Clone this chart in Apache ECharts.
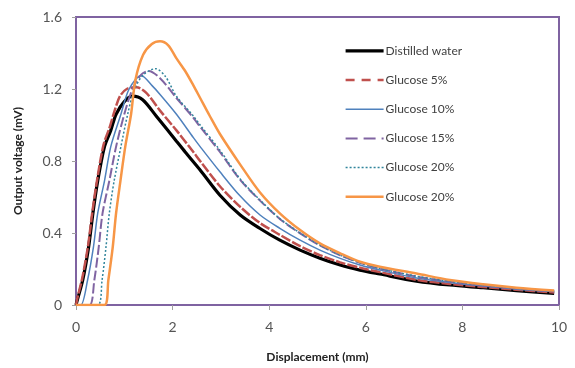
<!DOCTYPE html>
<html><head><meta charset="utf-8">
<script src="https://cdn.jsdelivr.net/npm/echarts@6/dist/echarts.min.js"></script>
<style>html,body{margin:0;padding:0;background:#fff}#c{width:575px;height:368px}</style>
</head><body><div id="c"></div>
<script>
var seriesNames = ['Distilled water','Glucose 5%','Glucose 10%','Glucose 15%','Glucose 20%','Glucose 20%'];
var xTicks = [0,2,4,6,8,10];
var yTicks = [0,0.4,0.8,1.2,1.6];

var waterX = [0,0.03,0.14,0.26,0.35,0.45,0.59,0.72,0.83,1.0,1.17,1.38,1.66,2.08,2.26,2.57,2.98,3.40,3.81,4.22,4.64,5.05,5.47,5.88,6.29,7.05,7.74,8.43,9.12,9.9];
var waterY = [0,0.03,0.139,0.32,0.51,0.69,0.88,0.97,1.06,1.13,1.16,1.14,1.05,0.91,0.85,0.75,0.61,0.50,0.425,0.36,0.305,0.26,0.222,0.194,0.172,0.133,0.111,0.096,0.08,0.065];

var g5X = [0,0.03,0.13,0.25,0.34,0.44,0.57,0.70,0.80,0.91,1.05,1.25,1.45,1.74,2.08,2.43,2.57,2.98,3.40,3.81,4.22,4.64,5.05,5.47,5.88,6.29,7.05,7.74,8.43,9.12,9.9];
var g5Y = [0,0.04,0.15,0.33,0.52,0.70,0.89,0.99,1.08,1.16,1.20,1.21,1.18,1.08,0.97,0.85,0.80,0.66,0.545,0.455,0.39,0.327,0.277,0.237,0.207,0.183,0.14,0.117,0.1,0.085,0.07];

var g10X = [0,0.1,0.24,0.36,0.45,0.59,0.72,0.93,1.1,1.35,1.57,1.74,2.08,2.43,2.57,2.98,3.40,3.81,4.22,4.64,5.05,5.47,5.88,6.29,7.05,7.74,8.43,9.12,9.9];
var g10Y = [0,0,0.139,0.32,0.51,0.69,0.88,1.06,1.2,1.275,1.22,1.17,1.06,0.93,0.88,0.74,0.605,0.50,0.426,0.36,0.305,0.259,0.222,0.194,0.15,0.125,0.105,0.088,0.075];

var g15X = [0,0.28,0.38,0.47,0.55,0.69,0.83,1.0,1.17,1.35,1.5,1.74,2.08,2.43,2.57,2.98,3.40,3.81,4.22,4.64,5.05,5.47,5.88,6.29,7.05,7.74,8.43,9.12,9.9];
var g15Y = [0,0,0.139,0.32,0.51,0.69,0.88,1.06,1.2,1.28,1.30,1.26,1.15,1.04,0.99,0.85,0.695,0.58,0.478,0.398,0.331,0.276,0.234,0.202,0.158,0.13,0.11,0.092,0.076];

var g20aX = [0,0.45,0.54,0.62,0.69,0.79,0.93,1.07,1.21,1.4,1.65,1.85,2.08,2.43,2.57,2.98,3.40,3.81,4.22,4.64,5.05,5.47,5.88,6.29,7.05,7.74,8.43,9.12,9.9];
var g20aY = [0,0,0.139,0.32,0.51,0.69,0.88,1.06,1.2,1.28,1.313,1.27,1.16,1.05,1.0,0.86,0.70,0.583,0.48,0.40,0.333,0.277,0.235,0.203,0.16,0.132,0.112,0.094,0.078];

var g20bX = [0,0.59,0.67,0.76,0.83,0.92,1.02,1.14,1.23,1.39,1.57,1.74,1.91,2.08,2.26,2.43,2.57,2.77,2.98,3.40,3.81,4.22,4.64,5.05,5.47,5.88,6.29,7.05,7.74,8.43,9.12,9.9];
var g20bY = [0,0,0.139,0.32,0.51,0.69,0.88,1.06,1.25,1.39,1.45,1.465,1.443,1.37,1.30,1.22,1.15,1.05,0.95,0.78,0.625,0.509,0.416,0.342,0.287,0.24,0.213,0.175,0.139,0.115,0.096,0.08];

function pairs(xs, ys){ return xs.map(function(x,i){ return [x, ys[i]]; }); }

var lines = [
  {x: waterX, y: waterY, color: '#000000', width: 3.2, type: 'solid', legendType: 'solid'},
  {x: g5X, y: g5Y, color: '#C0504D', width: 2.5, type: [10,2], legendType: [9,7]},
  {x: g10X, y: g10Y, color: '#4F81BD', width: 1.5, type: 'solid', legendType: 'solid'},
  {x: g15X, y: g15Y, color: '#8064A2', width: 2, type: [10,3], legendType: [12,6]},
  {x: g20aX, y: g20aY, color: '#31859C', width: 1.5, type: [2,2], legendType: [2,2]},
  {x: g20bX, y: g20bY, color: '#F79646', width: 2.5, type: 'solid', legendType: 'solid'}
];
function sname(i){ return seriesNames[i] + (i===5 ? ' ' : ''); }

var chart = echarts.init(document.getElementById('c'), null, {renderer:'canvas'});
chart.setOption({
  animation: false,
  backgroundColor: '#fff',
  grid: {left: 76, top: 17, right: 16, bottom: 63, show: true, borderColor: '#7F63A1', borderWidth: 2, backgroundColor: 'transparent'},
  legend: {
    orient: 'vertical', left: 339, top: 38, itemWidth: 38, itemHeight: 14, itemGap: 13.6,
    itemStyle: {opacity: 0},
    textStyle: {fontFamily: 'Lato, "Open Sans", sans-serif', fontSize: 12, color: '#404040', padding: [0,0,0,-3], lineHeight: 15.6},
    data: lines.map(function(l,i){ return {name: sname(i), lineStyle: {color: l.color, width: l.width, type: l.legendType}, itemStyle: {opacity: 0}}; })
  },
  xAxis: {
    type: 'value', min: xTicks[0], max: xTicks[xTicks.length-1], interval: 2,
    name: 'Displacement (mm)', nameLocation: 'middle', nameGap: 46,
    nameTextStyle: {fontFamily: 'Lato, sans-serif', fontWeight: 'bold', fontSize: 12, color: '#222'},
    axisLine: {show: true, lineStyle: {color: '#7F63A1', width: 2}},
    axisTick: {show: true, length: 5, lineStyle: {color: '#A0A0A0'}},
    axisLabel: {fontFamily: 'Lato, sans-serif', fontSize: 14, color: '#555', margin: 15},
    splitLine: {show: false}
  },
  yAxis: {
    type: 'value', min: yTicks[0], max: yTicks[yTicks.length-1], interval: 0.4,
    name: 'Output voltage (mV)', nameLocation: 'middle', nameGap: 52, nameRotate: 90,
    nameTextStyle: {fontFamily: 'Lato, sans-serif', fontWeight: 'bold', fontSize: 12, color: '#222'},
    axisLine: {show: true, lineStyle: {color: '#7F63A1', width: 2}},
    axisTick: {show: true, length: 4, lineStyle: {color: '#A0A0A0'}},
    axisLabel: {fontFamily: 'Lato, sans-serif', fontSize: 14, color: '#555', margin: 14},
    splitLine: {show: false}
  },
  series: lines.map(function(l,i){
    return {
      name: sname(i), type: 'line', data: pairs(l.x, l.y),
      showSymbol: false, symbol: 'none', smooth: 0.3, z: (i===0?2:3+i),
      lineStyle: {color: l.color, width: l.width, type: l.type},
      itemStyle: {color: l.color}
    };
  })
});
</script></body></html>
